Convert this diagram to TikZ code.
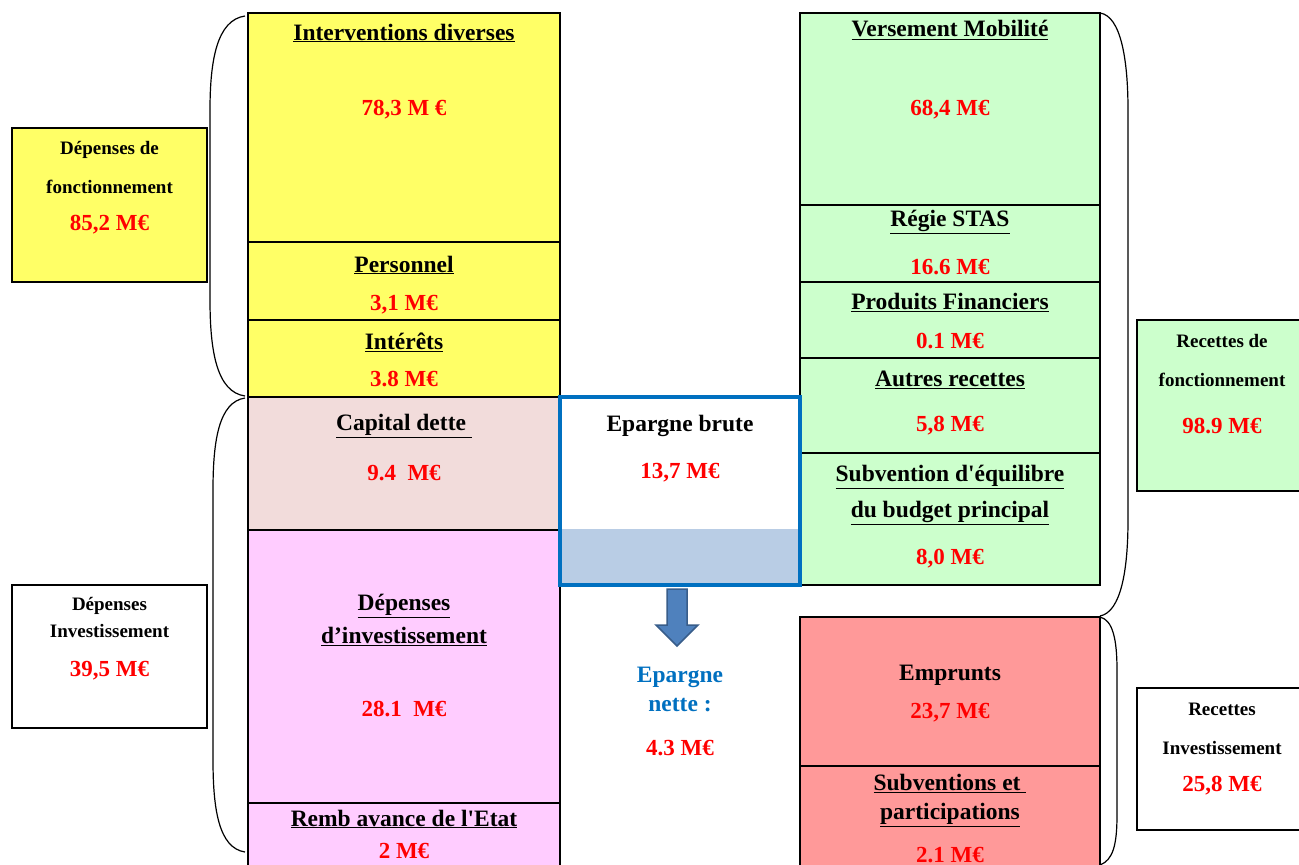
\documentclass[tikz,border=0pt]{standalone}
\usepackage{fontspec}
\setmainfont{Liberation Serif}
\usepackage{xcolor}
\usepackage{tikz}
\usetikzlibrary{positioning, calc}
\definecolor{depjaune}{RGB}{255,255,102}
\definecolor{deprose}{RGB}{242,220,219}
\definecolor{depmauve}{RGB}{255,204,255}
\definecolor{recvert}{RGB}{204,255,204}
\definecolor{recsaumon}{RGB}{255,153,153}
\definecolor{epbleu}{RGB}{0,112,192}
\definecolor{epclair}{RGB}{185,205,229}
\definecolor{flbleu}{RGB}{79,129,189}
\definecolor{flbord}{RGB}{56,93,138}
\definecolor{valrouge}{RGB}{255,0,0}
\tikzset{
  cell/.style={draw=black, line width=1.6pt, rectangle, inner sep=0pt},
  sidebox/.style={draw=black, line width=1.6pt, rectangle, inner sep=0pt, minimum width=195, fill=white},
  hdr/.style={font=\fontsize{23.5}{33}\selectfont\bfseries, align=center, inner sep=1pt},
  val/.style={font=\fontsize{23}{26}\selectfont\bfseries, text=valrouge, inner sep=1pt},
  sml/.style={font=\fontsize{19}{39}\selectfont\bfseries, align=center, inner sep=1pt},
  brace/.style={draw=black, line width=1.2pt},
  fleche/.style={draw=flbord, fill=flbleu, line width=1.5pt, line join=miter}
}

\begin{document}
\begin{tikzpicture}[x=1pt, y=-1pt]
  \clip (0,0) rectangle (1299,865);
  \fill[white] (0,0) rectangle (1299,865);

  % Depenses (Left)
  \node [sidebox, fill=depjaune, minimum height=154] (depfonct) at (109.5,205) {};
  \node [sml] (depfonctT) at (109.5,167.5) {Dépenses de\\fonctionnement};
  \node [val] (depfonctV) at (109.5,225) {85,2 M€};

  \node [sidebox, minimum height=143] (depinvtot) at (109.5,656.5) {};
  \node [sml] (depinvtotT) at (109.5,617.5) {Dépenses\\[-12pt]Investissement};
  \node [val] (depinvtotV) at (109.5,671) {39,5 M€};

  \draw [brace] (245,16) .. controls (217,20) and (210,60) .. (210,110) -- (210,300) .. controls (210,352) and (217,392) .. (245,396);
  \draw [brace] (245,398) .. controls (219,402) and (213,440) .. (213,490) -- (213,760) .. controls (213,810) and (219,848) .. (245,852);

  \node [cell, fill=depjaune, minimum width=312, minimum height=229] (interv) at (404,127.5) {};
  \node [cell, fill=depjaune, minimum width=312, minimum height=78] (perso) at (404,281) {};
  \node [cell, fill=depjaune, minimum width=312, minimum height=77] (interets) at (404,358.5) {};
  \node [cell, fill=deprose, minimum width=312, minimum height=133] (capital) at (404,463.5) {};
  \node [cell, fill=depmauve, minimum width=312, minimum height=273] (depinv) at (404,666.5) {};
  \node [cell, fill=depmauve, minimum width=312, minimum height=70] (remb) at (404,838) {};

  \node [hdr] (intervT) at (404,33) {\underline{Interventions diverses}};
  \node [val] (intervV) at (404,110) {78,3 M €};
  \node [hdr] (persoT) at (404,265) {\underline{Personnel}};
  \node [val] (persoV) at (404,305) {3,1 M€};
  \node [hdr] (interetsT) at (404,342) {\underline{Intérêts}};
  \node [val] (interetsV) at (404,379) {3.8 M€};
  \node [hdr] (capitalT) at (404,426) {\underline{Capital dette\ }};
  \node [val] (capitalV) at (404,473) {9.4\ \ M€};
  \node [hdr] (depinvT) at (404,620) {\underline{Dépenses}\\\underline{d’investissement}};
  \node [val] (depinvV) at (404,709) {28.1\ \ M€};
  \node [hdr] (rembT) at (404,819) {\underline{Remb avance de l\textquotesingle Etat}};
  \node [val] (rembV) at (404,851) {2 M€};

  % Recettes (Right)
  \node [cell, fill=recvert, minimum width=300, minimum height=192] (versmob) at (950,109) {};
  \node [cell, fill=recvert, minimum width=300, minimum height=77] (regie) at (950,243.5) {};
  \node [cell, fill=recvert, minimum width=300, minimum height=76] (prodfin) at (950,320) {};
  \node [cell, fill=recvert, minimum width=300, minimum height=95] (autres) at (950,405.5) {};
  \node [cell, fill=recvert, minimum width=300, minimum height=132] (subeq) at (950,519) {};
  \node [cell, fill=recsaumon, minimum width=300, minimum height=149] (emprunts) at (950,691.5) {};
  \node [cell, fill=recsaumon, minimum width=300, minimum height=106] (subpart) at (950,819) {};

  \node [hdr] (versmobT) at (950,30) {\underline{Versement Mobilité}};
  \node [val] (versmobV) at (950,110) {68,4 M€};
  \node [hdr] (regieT) at (950,222) {\underline{Régie STAS}};
  \node [val] (regieV) at (950,267) {16.6 M€};
  \node [hdr] (prodfinT) at (950,302) {\underline{Produits Financiers}};
  \node [val] (prodfinV) at (950,341) {0.1 M€};
  \node [hdr] (autresT) at (950,380) {\underline{Autres recettes}};
  \node [val] (autresV) at (950,426) {5,8 M€};
  \node [hdr, font=\fontsize{23.5}{36}\selectfont\bfseries] (subeqT) at (950,495) {\underline{Subvention d\textquotesingle équilibre}\\\underline{du budget principal}};
  \node [val] (subeqV) at (950,559) {8,0 M€};
  \node [hdr] (empruntsT) at (950,675) {Emprunts};
  \node [val] (empruntsV) at (950,713) {23,7 M€};
  \node [hdr, font=\fontsize{23.5}{29}\selectfont\bfseries] (subpartT) at (950,800.5) {\underline{Subventions et\ }\\\underline{participations}};
  \node [val] (subpartV) at (950,855) {2.1 M€};

  \draw [brace] (1100,13) .. controls (1121,16) and (1128,60) .. (1128,110) -- (1128,520) .. controls (1128,570) and (1121,612) .. (1100,616);
  \draw [brace] (1100,617) .. controls (1113,620) and (1117,640) .. (1117,670) -- (1117,815) .. controls (1117,845) and (1113,860) .. (1100,865);

  \node [sidebox, fill=recvert, minimum width=170, minimum height=171] (recfonct) at (1222,405.5) {};
  \node [sml] (recfonctT) at (1222,360.5) {Recettes de\\fonctionnement};
  \node [val] (recfonctV) at (1222,426) {98.9 M€};

  \node [sidebox, minimum width=170, minimum height=142] (recinv) at (1222,759) {};
  \node [sml] (recinvT) at (1222,728.5) {Recettes\\Investissement};
  \node [val] (recinvV) at (1222,786) {25,8 M€};

  % Epargne (Middle)
  \node [rectangle, fill=epclair, minimum width=240, minimum height=56, inner sep=0pt] (epfond) at (680,557) {};
  \node [rectangle, draw=epbleu, line width=3.5pt, minimum width=240, minimum height=188, inner sep=0pt] (epbrute) at (680,491) {};
  \node [hdr] (epbruteT) at (680,426) {Epargne brute};
  \node [val] (epbruteV) at (680,473) {13,7 M€};

  \draw [fleche] (667,589) -- (687,589) -- (687,625) -- (698,625) -- (677,646) -- (656,625) -- (667,625) -- cycle;

  \node [hdr, text=epbleu, font=\fontsize{23.5}{29}\selectfont\bfseries] (epnetteT) at (680,689.5) {Epargne\\nette :};
  \node [val] (epnetteV) at (680,748) {4.3 M€};
\end{tikzpicture}
\end{document}
